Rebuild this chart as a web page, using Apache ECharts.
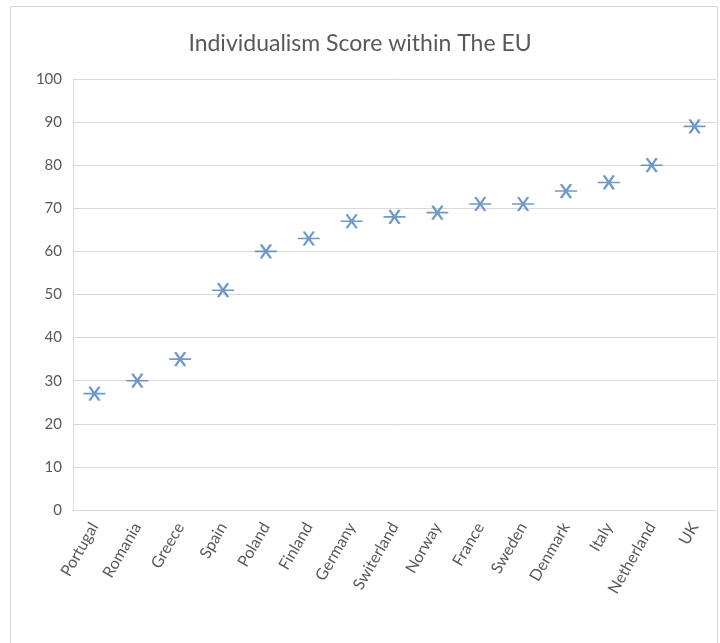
<!DOCTYPE html>
<html>
<head>
<meta charset="utf-8">
<script src="https://cdn.jsdelivr.net/npm/echarts@6/dist/echarts.min.js"></script>
<style>
  html, body { margin: 0; padding: 0; background: #fff; }
  #main { width: 720px; height: 643px; }
</style>
</head>
<body>
<div id="main"></div>
<script>
// data
const countries = ['Portugal', 'Romania', 'Greece', 'Spain', 'Poland', 'Finland', 'Germany',
  'Switerland', 'Norway', 'France', 'Sweden', 'Denmark', 'Italy', 'Netherland', 'UK'];
const scores = [27, 30, 35, 51, 60, 63, 67, 68, 69, 71, 71, 74, 76, 80, 89];

const myChart = echarts.init(document.getElementById('main'));

// asterisk marker, long horizontal bar with an X through it
const starMark = 'path://M0,7L22,7M6,0L16,14M6,14L16,0';

const option = {
  backgroundColor: '#fff',
  textStyle: { fontFamily: 'Lato, "Open Sans", sans-serif' },
  graphic: [{
    type: 'rect',
    shape: { x: 10.5, y: 6.5, width: 707, height: 640 },
    style: { fill: 'none', stroke: '#d9d9d9', lineWidth: 1 },
    silent: true
  }],
  title: {
    text: 'Individualism Score within The EU',
    left: 'center',
    top: 27,
    textStyle: { color: '#595959', fontSize: 23, fontWeight: 'normal' }
  },
  grid: { left: 73, right: 4, top: 79, bottom: 133 },
  xAxis: {
    type: 'category',
    data: countries,
    boundaryGap: true,
    axisLine: { show: true, lineStyle: { color: '#d9d9d9' } },
    axisTick: { show: false },
    axisLabel: { rotate: 60, color: '#595959', fontSize: 16, margin: 14, interval: 0 }
  },
  yAxis: {
    type: 'value',
    min: 0,
    max: 100,
    interval: 10,
    axisLine: { show: true, lineStyle: { color: '#d9d9d9' } },
    axisTick: { show: false },
    splitLine: { lineStyle: { color: '#d9d9d9' } },
    axisLabel: { color: '#595959', fontSize: 15, margin: 11 }
  },
  series: [{
    name: 'Individualism',
    type: 'scatter',
    data: scores,
    symbol: starMark,
    symbolSize: [22, 14],
    itemStyle: { color: 'rgba(0,0,0,0)', borderColor: '#4a7ebb', borderWidth: 2 }
  }]
};

myChart.setOption(option);
</script>
</body>
</html>
